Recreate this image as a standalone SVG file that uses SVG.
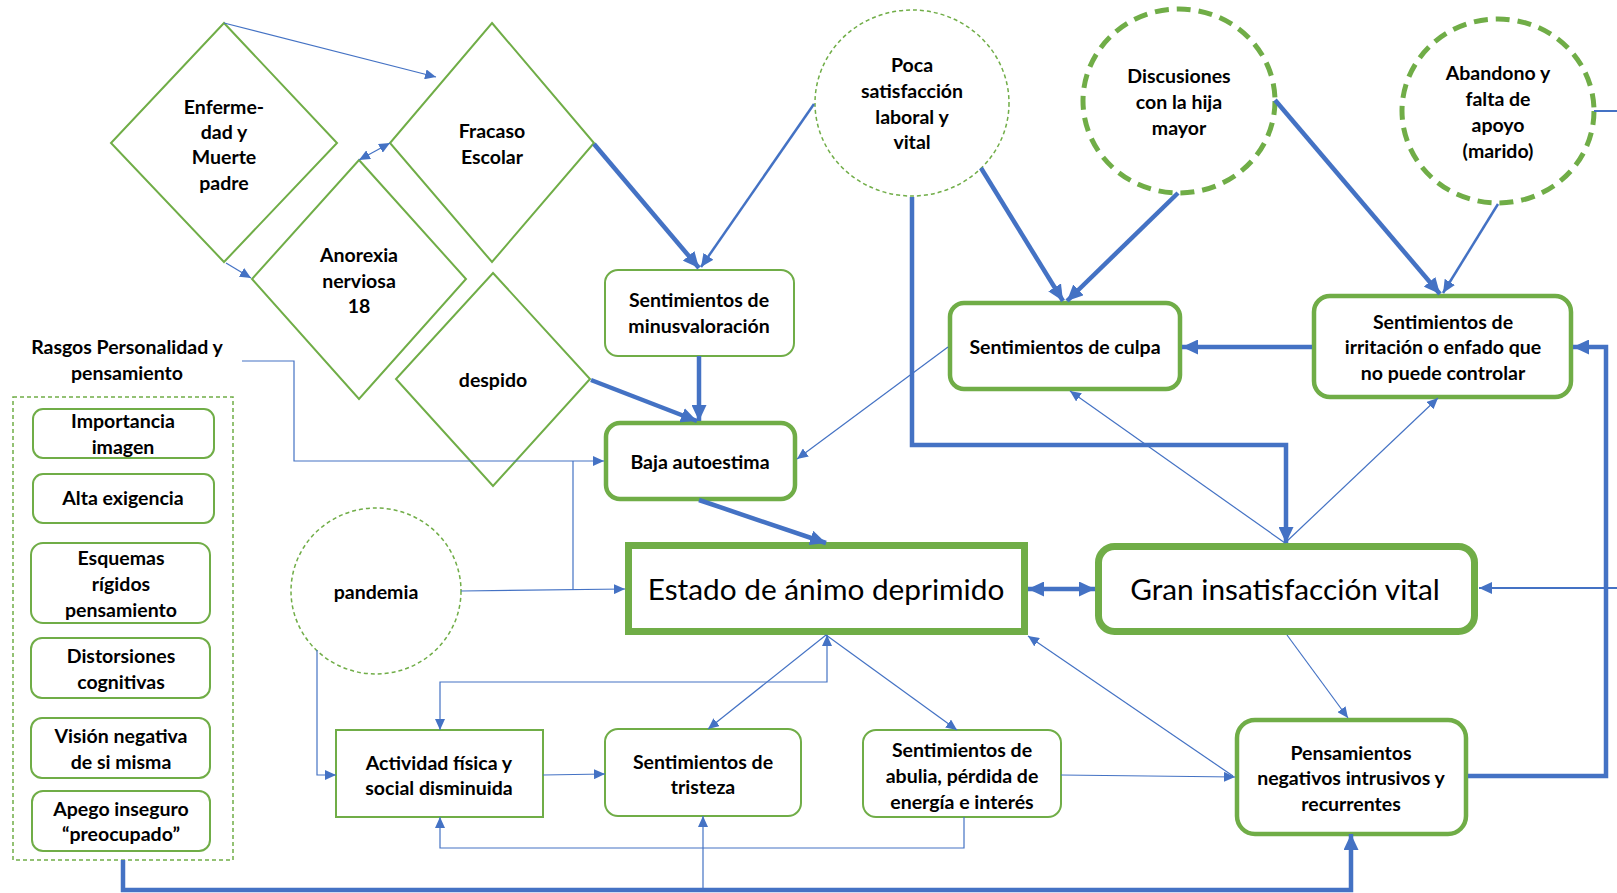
<svg xmlns="http://www.w3.org/2000/svg" width="1617" height="893" viewBox="0 0 1617 893">
<style>
.n{fill:#fff;stroke:#70AD47;stroke-width:2}
.n4{stroke-width:4.5}
.n7{stroke-width:7}
.dthin{fill:#fff;stroke:#70AD47;stroke-width:1.5;stroke-dasharray:4 3}
.dthick{fill:#fff;stroke:#70AD47;stroke-width:5;stroke-dasharray:14 8}
.t{font-family:Lato,"Liberation Sans",sans-serif;font-weight:700;font-size:19.5px;fill:#000;text-anchor:middle;dominant-baseline:central}
.big{font-weight:400;font-size:29.8px}
.c{fill:none;stroke:#4472C4}
.thin{stroke-width:1.2;marker-end:url(#a1)}
.med{stroke-width:2.5;marker-end:url(#a2)}
.thick{stroke-width:4.5;marker-end:url(#a3)}
.s1{marker-start:url(#a1)}
.s3{marker-start:url(#a3)}
.nom{marker-end:none}
</style>
<defs>
<marker id="a1" markerUnits="userSpaceOnUse" markerWidth="11" markerHeight="10" refX="11" refY="5" orient="auto-start-reverse"><path d="M0,0 L11,5 L0,10 z" fill="#4472C4"/></marker>
<marker id="a2" markerUnits="userSpaceOnUse" markerWidth="13" markerHeight="12" refX="13" refY="6" orient="auto-start-reverse"><path d="M0,0 L13,6 L0,12 z" fill="#4472C4"/></marker>
<marker id="a3" markerUnits="userSpaceOnUse" markerWidth="16" markerHeight="15" refX="16" refY="7.5" orient="auto-start-reverse"><path d="M0,0 L16,7.5 L0,15 z" fill="#4472C4"/></marker>
</defs>
<rect width="1617" height="893" fill="#fff"/>

<g id="enfermedad"><polygon class="n" points="224,23 337,143 224,262 111,143"/>
<text class="t" x="224" y="106">Enferme-</text><text class="t" x="224" y="131">dad y</text><text class="t" x="224" y="156">Muerte</text><text class="t" x="224" y="182">padre</text></g>
<g id="fracaso"><polygon class="n" points="492,23 594,143 492,262 390,143"/>
<text class="t" x="492" y="130">Fracaso</text><text class="t" x="492" y="156">Escolar</text></g>
<g id="anorexia"><polygon class="n" points="359,160 466,279 359,399 252,279"/>
<text class="t" x="359" y="254">Anorexia</text><text class="t" x="359" y="280">nerviosa</text><text class="t" x="359" y="305">18</text></g>
<g id="despido"><polygon class="n" points="493,273 590,379 493,486 396,379"/>
<text class="t" x="493" y="379">despido</text></g>

<g id="poca"><ellipse class="dthin" cx="912" cy="103" rx="97" ry="93"/>
<text class="t" x="912" y="64">Poca</text><text class="t" x="912" y="90">satisfacción</text><text class="t" x="912" y="116">laboral y</text><text class="t" x="912" y="141">vital</text></g>
<g id="discusiones"><ellipse class="dthick" cx="1179" cy="101" rx="96" ry="92"/>
<text class="t" x="1179" y="75">Discusiones</text><text class="t" x="1179" y="101">con la hija</text><text class="t" x="1179" y="127">mayor</text></g>
<g id="abandono"><ellipse class="dthick" cx="1498" cy="111" rx="96" ry="92"/>
<text class="t" x="1498" y="72">Abandono y</text><text class="t" x="1498" y="98">falta de</text><text class="t" x="1498" y="124">apoyo</text><text class="t" x="1498" y="150">(marido)</text></g>

<g id="minusvaloracion"><rect class="n" x="605" y="270" width="189" height="86" rx="13"/>
<text class="t" x="699" y="299">Sentimientos de</text><text class="t" x="699" y="325">minusvaloración</text></g>
<g id="culpa"><rect class="n n4" x="950" y="303" width="230" height="86" rx="14"/>
<text class="t" x="1065" y="346">Sentimientos de culpa</text></g>
<g id="irritacion"><rect class="n n4" x="1314" y="296" width="257" height="101" rx="16"/>
<text class="t" x="1443" y="321">Sentimientos de</text><text class="t" x="1443" y="346">irritación o enfado que</text><text class="t" x="1443" y="372">no puede controlar</text></g>
<g id="baja"><rect class="n n4" x="606" y="423" width="189" height="76" rx="14"/>
<text class="t" x="700" y="461">Baja autoestima</text></g>

<g id="rasgos"><text class="t" x="127" y="346">Rasgos Personalidad y</text><text class="t" x="127" y="372">pensamiento</text>
<rect x="13" y="397" width="220" height="463" fill="none" stroke="#70AD47" stroke-width="1.5" stroke-dasharray="4 3"/></g>
<g id="importancia"><rect class="n" x="33" y="409" width="181" height="49" rx="10"/>
<text class="t" x="123" y="420">Importancia</text><text class="t" x="123" y="446">imagen</text></g>
<g id="exigencia"><rect class="n" x="33" y="474" width="181" height="49" rx="10"/>
<text class="t" x="123" y="497">Alta exigencia</text></g>
<g id="esquemas"><rect class="n" x="31" y="543" width="179" height="80" rx="12"/>
<text class="t" x="121" y="557">Esquemas</text><text class="t" x="121" y="583">rígidos</text><text class="t" x="121" y="609">pensamiento</text></g>
<g id="distorsiones"><rect class="n" x="31" y="638" width="179" height="60" rx="11"/>
<text class="t" x="121" y="655">Distorsiones</text><text class="t" x="121" y="681">cognitivas</text></g>
<g id="vision"><rect class="n" x="31" y="718" width="179" height="60" rx="11"/>
<text class="t" x="121" y="735">Visión negativa</text><text class="t" x="121" y="761">de si misma</text></g>
<g id="apego"><rect class="n" x="32" y="791" width="178" height="60" rx="11"/>
<text class="t" x="121" y="808">Apego inseguro</text><text class="t" x="121" y="833">“preocupado”</text></g>

<g id="pandemia"><ellipse class="dthin" cx="376" cy="591" rx="85" ry="83"/>
<text class="t" x="376" y="591">pandemia</text></g>

<g id="estado"><rect class="n n7" x="628.5" y="545.5" width="396" height="86"/>
<text class="t big" x="826" y="588">Estado de ánimo deprimido</text></g>
<g id="gran"><rect class="n n7" x="1098.5" y="546.5" width="376" height="85" rx="16"/>
<text class="t big" x="1285" y="588">Gran insatisfacción vital</text></g>

<g id="actividad"><rect class="n" x="336" y="730" width="207" height="87"/>
<text class="t" x="439" y="762">Actividad física y</text><text class="t" x="439" y="787">social disminuida</text></g>
<g id="tristeza"><rect class="n" x="605" y="729" width="196" height="87" rx="13"/>
<text class="t" x="703" y="761">Sentimientos de</text><text class="t" x="703" y="786">tristeza</text></g>
<g id="abulia"><rect class="n" x="863" y="730" width="198" height="87" rx="13"/>
<text class="t" x="962" y="749">Sentimientos de</text><text class="t" x="962" y="775">abulia, pérdida de</text><text class="t" x="962" y="801">energía e interés</text></g>
<g id="pensamientos"><rect class="n n4" x="1237" y="720" width="229" height="114" rx="18"/>
<text class="t" x="1351" y="752">Pensamientos</text><text class="t" x="1351" y="777">negativos intrusivos y</text><text class="t" x="1351" y="803">recurrentes</text></g>

<g id="connectors">
<path class="c thin" d="M224,23 L436,77"/>
<path class="c thin" d="M226,263 L251,278"/>
<path class="c thin s1" d="M359,160 L390,143"/>
<path class="c thin" d="M242,361 L294,361 L294,461 L604,461"/>
<path class="c thin nom" d="M573,461 L573,590"/>
<path class="c thin" d="M461,591 L625,589"/>
<path class="c thin" d="M948,347 L797,459"/>
<path class="c thin" d="M1285,543 L1070,391"/>
<path class="c thin" d="M1285,543 L1438,398"/>
<path class="c thin" d="M1287,635 L1348,718"/>
<path class="c thin" d="M826,635 L708,729"/>
<path class="c thin" d="M826,635 L957,730"/>
<path class="c thin s1" d="M827,635 L827,682 L440,682 L440,730"/>
<path class="c thin" d="M543,775 L605,774"/>
<path class="c thin" d="M317,650 L317,775 L336,775"/>
<path class="c thin" d="M964,817 L964,848 L440,848 L440,817"/>
<path class="c thin" d="M1061,775 L1235,777"/>
<path class="c thin s1 nom" d="M1028,636 L1233,776"/>
<path class="c thin" d="M703,890 L703,816"/>
<path class="c med nom" style="stroke-width:2" d="M1594,111 L1617,111"/>
<path class="c med" style="stroke-width:2" d="M1617,588 L1479,588"/>
<path class="c med" d="M814,104 L701,267"/>
<path class="c med" d="M1498,204 L1443,293"/>
<path class="c thick" d="M594,144 L699,268"/>
<path class="c thick" d="M699,356 L699,421"/>
<path class="c thick" d="M591,380 L697,421"/>
<path class="c thick" d="M699,500 L826,543"/>
<path class="c thick" d="M912,197 L912,445 L1286,445 L1286,543"/>
<path class="c thick" d="M981,168 L1063,301"/>
<path class="c thick" d="M1178,193 L1067,301"/>
<path class="c thick" d="M1275,100 L1440,294"/>
<path class="c thick" d="M1312,347 L1182,347"/>
<path class="c thick" d="M1468,776 L1606,776 L1606,347 L1573,347"/>
<path class="c thick s3" d="M1028,589 L1095,589"/>
<path class="c thick" d="M123,860 L123,890 L1351,890 L1351,834"/>
</g>
</svg>
